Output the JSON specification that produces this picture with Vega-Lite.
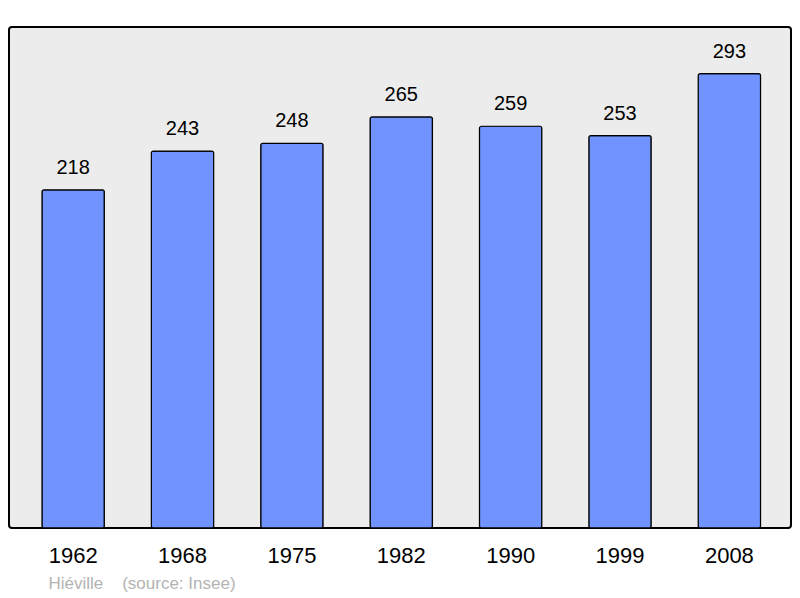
{
  "$schema": "https://vega.github.io/schema/vega-lite/v6.json",
  "description": "Population of Hiéville by census year.",
  "autosize": "none",
  "width": 782,
  "height": 501,
  "padding": {"left": 9, "top": 27, "right": 9, "bottom": 70},
  "background": "#ffffff",
  "config": {
    "font": "Liberation Sans",
    "view": {"fill": "#ececec", "stroke": "#000000", "strokeWidth": 2, "cornerRadius": 3}
  },
  "data": {
    "values": [
      {"year": "1962", "population": 218},
      {"year": "1968", "population": 243},
      {"year": "1975", "population": 248},
      {"year": "1982", "population": 265},
      {"year": "1990", "population": 259},
      {"year": "1999", "population": 253},
      {"year": "2008", "population": 293}
    ]
  },
  "encoding": {
    "x": {
      "field": "year",
      "type": "ordinal",
      "scale": {"paddingInner": 0.43, "paddingOuter": 0.29, "align": 0.52},
      "axis": {
        "title": "Hiéville \u00a0\u00a0\u00a0(source: Insee)",
        "titleFont": "Liberation Sans",
        "titleFontSize": 17,
        "titleFontWeight": "normal",
        "titleColor": "#b3b3b3",
        "titleAnchor": "start",
        "titleAlign": "left",
        "titleBaseline": "middle",
        "titleX": 39,
        "titleY": 55,
        "labelAngle": 0,
        "labelFontSize": 22,
        "labelColor": "#000000",
        "labelPadding": 17,
        "domain": false,
        "ticks": false
      }
    },
    "y": {
      "field": "population",
      "type": "quantitative",
      "scale": {"domain": [0, 323], "nice": false},
      "axis": null
    }
  },
  "layer": [
    {
      "mark": {"type": "bar", "fill": "#7093ff", "stroke": "#000000", "strokeWidth": 1.2, "cornerRadius": 2}
    },
    {
      "mark": {"type": "text", "baseline": "bottom", "dy": -12, "fontSize": 20, "color": "#000000"},
      "encoding": {"text": {"field": "population", "type": "quantitative"}}
    }
  ]
}
